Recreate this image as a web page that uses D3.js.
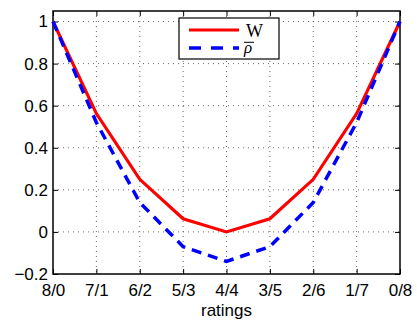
<!DOCTYPE html>
<html>
<head>
<meta charset="utf-8">
<script src="https://cdn.jsdelivr.net/npm/d3@7"></script>
<style>
  body { margin: 0; background: #fff; }
  text { font-family: "Liberation Sans", Arial, sans-serif; }
</style>
</head>
<body>
<div id="chart"></div>
<script>
// data
var ratings = ["8/0", "7/1", "6/2", "5/3", "4/4", "3/5", "2/6", "1/7", "0/8"];
var wValues = [1, 0.5625, 0.25, 0.0625, 0, 0.0625, 0.25, 0.5625, 1];
var rhoValues = [1, 0.52, 0.14, -0.07, -0.14, -0.07, 0.14, 0.52, 1];
var yTicks = [-0.2, 0, 0.2, 0.4, 0.6, 0.8, 1];

var W = 417, H = 322;
var margin = { top: 11, right: 17, bottom: 48, left: 53 };
var width = W - margin.left - margin.right,
    height = H - margin.top - margin.bottom;

var svg = d3.select("#chart").append("svg")
    .attr("width", W)
    .attr("height", H)
  .append("g")
    .attr("transform", "translate(" + margin.left + "," + margin.top + ")");

var x = d3.scalePoint().domain(ratings).range([0, width]);
var y = d3.scaleLinear().domain([-0.2, 1.05]).range([height, 0]);

// dotted grid
svg.append("g").selectAll("line.gx")
    .data(ratings.slice(1, -1))
    .enter().append("line")
    .attr("x1", d => x(d)).attr("x2", d => x(d))
    .attr("y1", 0).attr("y2", height)
    .style("stroke", "#444").style("stroke-width", 0.8)
    .style("stroke-dasharray", "1,4");
svg.append("g").selectAll("line.gy")
    .data(yTicks.slice(1))
    .enter().append("line")
    .attr("x1", 0).attr("x2", width)
    .attr("y1", d => y(d)).attr("y2", d => y(d))
    .style("stroke", "#444").style("stroke-width", 0.8)
    .style("stroke-dasharray", "1,4");

// axes, ticks pointing inwards (MATLAB style)
var xAxis = svg.append("g")
    .attr("transform", "translate(0," + height + ")")
    .call(d3.axisBottom(x).tickSizeInner(-5).tickSizeOuter(0).tickPadding(10));
var xTop = svg.append("g")
    .call(d3.axisTop(x).tickSizeInner(-5).tickSizeOuter(0).tickFormat(""));
var yAxis = svg.append("g")
    .call(d3.axisLeft(y).tickValues(yTicks).tickSizeInner(-5).tickSizeOuter(0).tickPadding(5)
        .tickFormat(d => d < 0 ? "\u2212" + Math.abs(d) : d));
var yRight = svg.append("g")
    .attr("transform", "translate(" + width + ",0)")
    .call(d3.axisRight(y).tickValues(yTicks).tickSizeInner(-5).tickSizeOuter(0).tickFormat(""));

[xAxis, xTop, yAxis, yRight].forEach(function(a) {
    a.select(".domain").remove();
    a.selectAll("line").style("stroke", "#000").style("stroke-width", 1);
    a.selectAll("text").style("font-size", "17px").style("fill", "#000")
        .style("font-family", "'Liberation Sans', Arial, sans-serif");
});

// box
svg.append("rect")
    .attr("x", 0).attr("y", 0)
    .attr("width", width).attr("height", height)
    .style("fill", "none").style("stroke", "#000").style("stroke-width", 1.5);

var line = d3.line()
    .x((d, i) => x(ratings[i]))
    .y(d => y(d));

svg.append("path")
    .datum(wValues)
    .attr("d", line)
    .style("fill", "none").style("stroke", "#ff0000").style("stroke-width", 3.2)
    .style("stroke-linejoin", "miter");

svg.append("path")
    .datum(rhoValues)
    .attr("d", line)
    .style("fill", "none").style("stroke", "#0000ff").style("stroke-width", 3.5)
    .style("stroke-dasharray", "10,7");

// x-axis label
svg.append("text")
    .attr("x", width / 2)
    .attr("y", height + 42)
    .style("text-anchor", "middle")
    .style("font-size", "17px")
    .text("ratings");

// legend
var legend = svg.append("g").attr("transform", "translate(" + (179 - margin.left) + "," + (18 - margin.top) + ")");
legend.append("rect")
    .attr("width", 100).attr("height", 41)
    .style("fill", "#fff").style("stroke", "#000").style("stroke-width", 1.2);
legend.append("line")
    .attr("x1", 10).attr("x2", 60).attr("y1", 12).attr("y2", 12)
    .style("stroke", "#ff0000").style("stroke-width", 3.2);
legend.append("line")
    .attr("x1", 10).attr("x2", 60).attr("y1", 30).attr("y2", 30)
    .style("stroke", "#0000ff").style("stroke-width", 3.5)
    .style("stroke-dasharray", "12,10");
var lt = legend.append("text")
    .style("font-family", "'Liberation Serif', 'Times New Roman', serif")
    .style("font-size", "18px");
lt.append("tspan").attr("x", 67).attr("y", 18.5).text("W");
lt.append("tspan").attr("x", 65).attr("y", 35).style("font-style", "italic")
    .style("font-size", "17px").text("\u03C1");
legend.append("line")
    .attr("x1", 65).attr("x2", 75).attr("y1", 24.3).attr("y2", 24.3)
    .style("stroke", "#000").style("stroke-width", 1);
</script>
</body>
</html>
